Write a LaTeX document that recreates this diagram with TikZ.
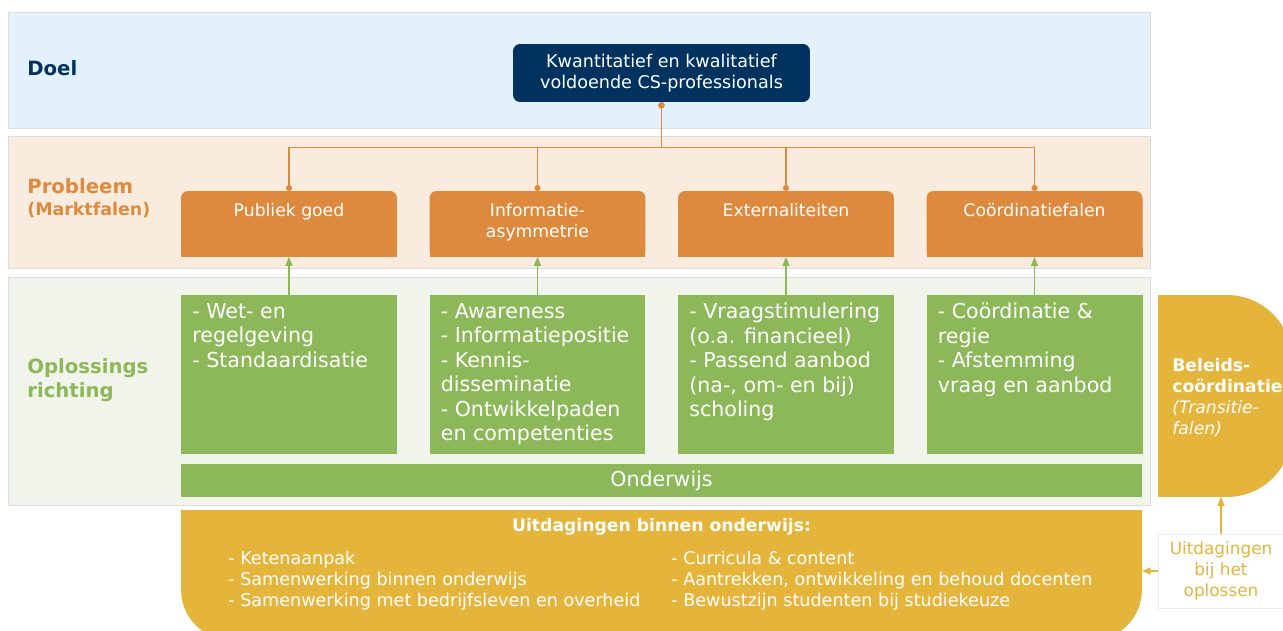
\documentclass[tikz,border=0pt]{standalone}
\usepackage{fontspec}
\setmainfont{DejaVu Sans}
\usepackage{tikz}
\usepackage{xcolor}
\usetikzlibrary{arrows.meta,calc,positioning}
\definecolor{CS_Navy}{HTML}{00325F}
\definecolor{CS_Orange}{HTML}{DE8A3E}
\definecolor{CS_Green}{HTML}{8DB85A}
\definecolor{CS_Gold}{HTML}{E5B43B}
\definecolor{CS_BandBlue}{HTML}{E3F1FC}
\definecolor{CS_BandPeach}{HTML}{FAEBDF}
\definecolor{CS_BandGreen}{HTML}{F0F4EA}
\definecolor{CS_Border}{HTML}{DCDCDC}

\begin{document}
\begin{tikzpicture}[x=0.02cm, y=-0.02cm,
    band/.style={fill=#1, draw=CS_Border, line width=0.4pt},
    rowlbl/.style={font=\bfseries\fontsize{11.2}{13.6}\selectfont, inner sep=0},
    goalbox/.style={fill=CS_Navy, text=white, rounded corners=4pt, align=center,
        minimum width=5.94cm, minimum height=1.16cm, inner sep=0,
        font=\fontsize{10}{11.9}\selectfont},
    probbox/.style={fill=CS_Orange, rounded corners=4pt, minimum width=4.32cm,
        minimum height=1.32cm, inner sep=0, outer sep=0},
    probtxt/.style={text=white, align=center, inner sep=0, anchor=north,
        font=\fontsize{9.8}{11.9}\selectfont},
    solbox/.style={fill=CS_Green, minimum width=4.32cm, minimum height=3.18cm, inner sep=0, outer sep=0},
    soltxt/.style={text=white, align=left, inner sep=0, anchor=north west,
        font=\fontsize{11.7}{13.9}\selectfont},
    treeline/.style={draw=CS_Orange, line width=0.9pt, {Circle[length=3.4pt]}-{Circle[length=3.4pt]}},
    solarrow/.style={draw=CS_Green, line width=0.6pt, -{Triangle[length=5pt,width=4pt]}},
    goldarrow/.style={draw=CS_Gold, line width=0.8pt, -{Triangle[length=5pt,width=4pt]}}
]
    \useasboundingbox (0,0) rectangle (1283,631);
    \clip (0,0) rectangle (1283,631);

    % Background bands
    \draw[band=CS_BandBlue] (8,12) rectangle (1150,128);
    \draw[band=CS_BandPeach] (8,136) rectangle (1150,268);
    \draw[band=CS_BandGreen] (8,277) rectangle (1150,505);

    % Row labels
    \node[rowlbl, CS_Navy, anchor=base west] (doelLbl) at (27,76) {Doel};
    \node[rowlbl, CS_Orange, anchor=base west] (probLbl) at (27,194) {Probleem};
    \node[rowlbl, CS_Orange, anchor=base west, font=\bfseries\fontsize{9.9}{12}\selectfont] (markLbl) at (27,216) {(Marktfalen)};
    \node[rowlbl, CS_Green, anchor=north west, align=left] (oplLbl) at (27,358) {Oplossings\\richting};

    % Goal
    \node[goalbox] (goal) at (661.5,73) {Kwantitatief en kwalitatief\\voldoende CS-professionals};

    % Problem boxes (square bottom corners)
    \node[probbox] (pub)  at (289,224)   {};
    \node[probbox] (info) at (537.5,224) {};
    \node[probbox] (ext)  at (786,224)   {};
    \node[probbox] (coor) at (1034.5,224) {};
    \foreach \n in {pub,info,ext,coor} {
        \fill[CS_Orange] (\n.south west) rectangle ++(10,-10);
        \fill[CS_Orange] (\n.south east) rectangle ++(-10,-10);
    }
    \node[probtxt] (pubTxt)  at ([yshift=-0.25cm]pub.north)  {Publiek goed};
    \node[probtxt] (infoTxt) at ([yshift=-0.25cm]info.north) {Informatie-\\asymmetrie};
    \node[probtxt] (extTxt)  at ([yshift=-0.25cm]ext.north)  {Externaliteiten};
    \node[probtxt] (coorTxt) at ([yshift=-0.25cm]coor.north) {Coördinatiefalen};

    % Solution boxes
    \node[solbox] (wet)   at (289,374.5)    {};
    \node[solbox] (aware) at (537.5,374.5)  {};
    \node[solbox] (vraag) at (786,374.5)    {};
    \node[solbox] (regie) at (1034.5,374.5) {};
    \node[soltxt] (wetTxt)   at ([shift={(11,8)}]wet.north west)   {- Wet- en\\regelgeving\\- Standaardisatie};
    \node[soltxt] (awareTxt) at ([shift={(11,8)}]aware.north west) {- Awareness\\- Informatiepositie\\- Kennis-\\disseminatie\\- Ontwikkelpaden\\en competenties};
    \node[soltxt] (vraagTxt) at ([shift={(11,8)}]vraag.north west) {- Vraagstimulering\\(o.a. financieel)\\- Passend aanbod\\(na-, om- en bij)\\scholing};
    \node[soltxt] (regieTxt) at ([shift={(11,8)}]regie.north west) {- Coördinatie \&\\regie\\- Afstemming\\vraag en aanbod};

    % Education bar
    \node[fill=CS_Green, text=white, minimum width=19.22cm, minimum height=0.66cm, inner sep=0,
        font=\fontsize{11.7}{13.9}\selectfont] (onderwijs) at (661.5,480.5) {Onderwijs};

    % Challenges in education
    \node[fill=CS_Gold, rounded corners=1cm, minimum width=19.22cm, minimum height=2.6cm, inner sep=0, outer sep=0] (chal) at (661.5,575) {};
    \fill[CS_Gold] (chal.north west) rectangle ++(60,60);
    \fill[CS_Gold] (chal.north east) rectangle ++(-60,60);
    \node[text=white, inner sep=0, anchor=base, font=\bfseries\fontsize{9.8}{11.9}\selectfont] (chalTitle) at ([yshift=-0.42cm]chal.north) {Uitdagingen binnen onderwijs:};
    \node[text=white, inner sep=0, anchor=north west, align=left, font=\fontsize{10}{11.9}\selectfont] (chalLeft) at (228,550.5)
        {- Ketenaanpak\\- Samenwerking binnen onderwijs\\- Samenwerking met bedrijfsleven en overheid};
    \node[text=white, inner sep=0, anchor=north west, align=left, font=\fontsize{10}{11.9}\selectfont] (chalRight) at (671,550.5)
        {- Curricula \& content\\- Aantrekken, ontwikkeling en behoud docenten\\- Bewustzijn studenten bij studiekeuze};

    % Policy coordination
    \node[fill=CS_Gold, rounded corners=1.3cm, minimum width=2.68cm, minimum height=4.04cm, inner sep=0, outer sep=0] (bel) at (1225,396) {};
    \fill[CS_Gold] (bel.north west) rectangle ++(70,70);
    \fill[CS_Gold] (bel.south west) rectangle ++(70,-70);
    \node[text=white, inner sep=0, anchor=north west, align=left, font=\fontsize{9.8}{11.9}\selectfont] (belTxt) at (1172,358.5)
        {\textbf{Beleids-}\\\textbf{coördinatie}\\\textit{(Transitie-}\\\textit{falen)}};

    % Challenges in solving
    \node[fill=white, draw=CS_Border!50, line width=0.3pt, text=CS_Gold, align=center, minimum width=2.52cm,
        minimum height=1.48cm, inner sep=0, font=\fontsize{9.6}{11.9}\selectfont] (uitb) at (1221,571) {Uitdagingen\\bij het\\oplossen};

    % Connectors
    \coordinate (hub) at ($(goal.south)+(0,45)$);
    \foreach \n in {pub,info,ext,coor}
        \draw[treeline] (goal.south) -- (hub) -| (\n.north);
    \draw[solarrow] (wet.north) -- (pub.south);
    \draw[solarrow] (aware.north) -- (info.south);
    \draw[solarrow] (vraag.north) -- (ext.south);
    \draw[solarrow] (regie.north) -- (coor.south);
    \draw[goldarrow] (uitb.north) -- (uitb.north |- bel.south);
    \draw[goldarrow] (uitb.west) -- (uitb.west -| chal.east);

\end{tikzpicture}
\end{document}
